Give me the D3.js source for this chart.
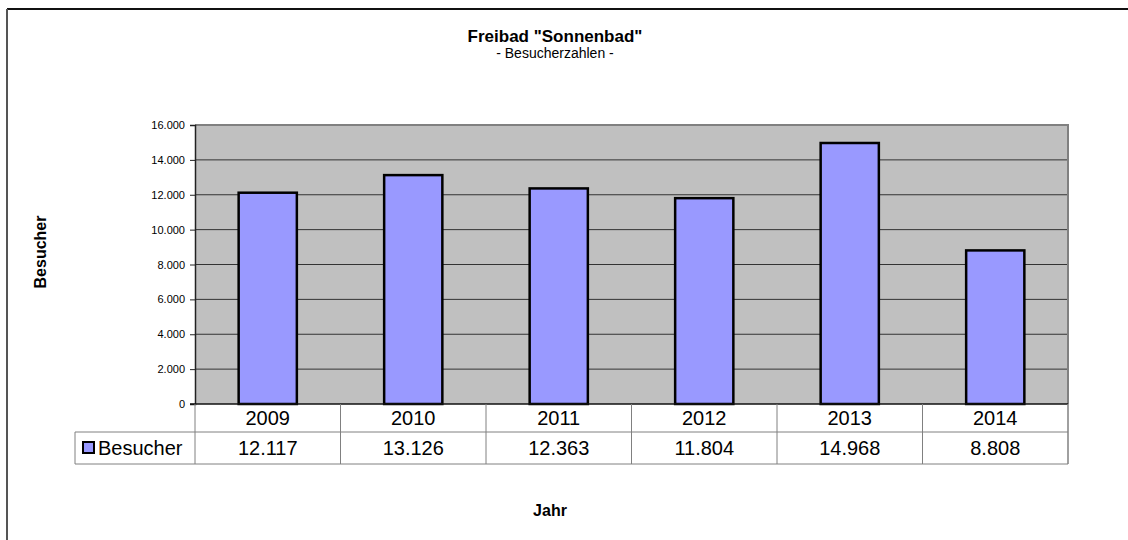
<!DOCTYPE html>
<html>
<head>
<meta charset="utf-8">
<script src="https://cdn.jsdelivr.net/npm/d3@7"></script>
<style>
  body { margin: 0; background: #fff; }
  svg { font-family: "Liberation Sans", Arial, sans-serif; display: block; }
</style>
</head>
<body>
<svg id="chart" width="1128" height="540"></svg>
<script>
// chart data
var years = ["2009", "2010", "2011", "2012", "2013", "2014"];
var visitors = [12117, 13126, 12363, 11804, 14968, 8808];
var yTicks = [0, 2000, 4000, 6000, 8000, 10000, 12000, 14000, 16000];
var seriesName = "Besucher";

var de = d3.formatLocale({decimal: ",", thousands: ".", grouping: [3], currency: ["", " €"]});
var fmt = de.format(",d");

var svg = d3.select("#chart");

// plot box
var plotL = 195, plotR = 1068, plotT = 125, plotB = 404;
var rowH = 30;

var x = d3.scaleBand().domain(years).range([plotL, plotR]);
var y = d3.scaleLinear().domain([0, 16000]).range([plotB, plotT]);

// outer frame (only top and left visible)
svg.append("line").attr("x1", 7).attr("y1", 9).attr("x2", 1130).attr("y2", 9)
  .attr("stroke", "#111").attr("stroke-width", 2);
svg.append("line").attr("x1", 7).attr("y1", 9).attr("x2", 7).attr("y2", 542)
  .attr("stroke", "#555").attr("stroke-width", 2);

// background
svg.append("rect").attr("x", plotL).attr("y", plotT)
  .attr("width", plotR - plotL).attr("height", plotB - plotT)
  .attr("fill", "#c0c0c0");

// gridlines
svg.append("g").selectAll("line").data(yTicks.slice(1, -1)).join("line")
  .attr("x1", plotL).attr("x2", plotR)
  .attr("y1", d => y(d)).attr("y2", d => y(d))
  .attr("stroke", "#333").attr("stroke-width", 1);

// top/right border of plot area
svg.append("path")
  .attr("d", "M" + plotL + "," + plotT + "H" + plotR + "V" + plotB)
  .attr("fill", "none").attr("stroke", "#808080").attr("stroke-width", 2);

// bars
var bw = x.bandwidth() * 0.4;
svg.append("g").selectAll("rect").data(visitors).join("rect")
  .attr("x", (d, i) => x(years[i]) + (x.bandwidth() - bw) / 2)
  .attr("y", d => y(d))
  .attr("width", bw)
  .attr("height", d => y(0) - y(d))
  .attr("fill", "#9999ff")
  .attr("stroke", "#000").attr("stroke-width", 2.5);

// y axis
var yAxis = d3.axisLeft(y).tickValues(yTicks).tickFormat(fmt).tickSize(5).tickPadding(5);
var ga = svg.append("g").attr("transform", "translate(" + plotL + ",0)").call(yAxis);
ga.select(".domain").attr("stroke", "#222").attr("stroke-width", 1.5);
ga.selectAll(".tick line").attr("stroke", "#222");
ga.selectAll(".tick text").attr("font-size", 11).attr("fill", "#000")
  .attr("font-family", "'Liberation Sans', Arial, sans-serif");

// zero line
svg.append("line").attr("x1", plotL - 5).attr("x2", plotR)
  .attr("y1", y(0)).attr("y2", y(0))
  .attr("stroke", "#111").attr("stroke-width", 1.5);

// data table
var tbl = svg.append("g");
var tableL = 75;
var tline = "#808080";
tbl.append("line").attr("x1", tableL).attr("x2", plotR)
  .attr("y1", plotB + rowH - 2).attr("y2", plotB + rowH - 2).attr("stroke", tline);
tbl.append("line").attr("x1", tableL).attr("x2", plotR)
  .attr("y1", plotB + 2 * rowH).attr("y2", plotB + 2 * rowH).attr("stroke", tline);
tbl.append("line").attr("x1", tableL).attr("x2", tableL)
  .attr("y1", plotB + rowH - 2).attr("y2", plotB + 2 * rowH).attr("stroke", tline);
tbl.selectAll(".col").data(years.concat(["end"])).join("line")
  .attr("class", "col")
  .attr("x1", (d, i) => i < years.length ? x(d) : plotR)
  .attr("x2", (d, i) => i < years.length ? x(d) : plotR)
  .attr("y1", plotB).attr("y2", plotB + 2 * rowH)
  .attr("stroke", tline).attr("stroke-width", (d, i) => i == years.length ? 1.5 : 1);

tbl.selectAll(".yr").data(years).join("text")
  .attr("class", "yr")
  .attr("x", d => x(d) + x.bandwidth() / 2)
  .attr("y", plotB + 21)
  .attr("text-anchor", "middle")
  .attr("font-size", 20)
  .text(d => d);

tbl.selectAll(".val").data(visitors).join("text")
  .attr("class", "val")
  .attr("x", (d, i) => x(years[i]) + x.bandwidth() / 2)
  .attr("y", plotB + 51)
  .attr("text-anchor", "middle")
  .attr("font-size", 20)
  .text(d => fmt(d));

// legend key in table
tbl.append("rect").attr("x", 83).attr("y", 442).attr("width", 11).attr("height", 11)
  .attr("fill", "#9999ff").attr("stroke", "#000").attr("stroke-width", 2);
tbl.append("text").attr("x", 98).attr("y", plotB + 51)
  .attr("font-size", 20).text(seriesName);

// titles
svg.append("text").attr("x", 555).attr("y", 42)
  .attr("text-anchor", "middle").attr("font-size", 17).attr("font-weight", "bold")
  .text("Freibad \"Sonnenbad\"");
svg.append("text").attr("x", 555).attr("y", 58)
  .attr("text-anchor", "middle").attr("font-size", 14)
  .text("- Besucherzahlen -");

svg.append("text")
  .attr("transform", "translate(46,252) rotate(-90)")
  .attr("text-anchor", "middle").attr("font-size", 16).attr("font-weight", "bold")
  .text("Besucher");

svg.append("text").attr("x", 550).attr("y", 516)
  .attr("text-anchor", "middle").attr("font-size", 16).attr("font-weight", "bold")
  .text("Jahr");
</script>
</body>
</html>
